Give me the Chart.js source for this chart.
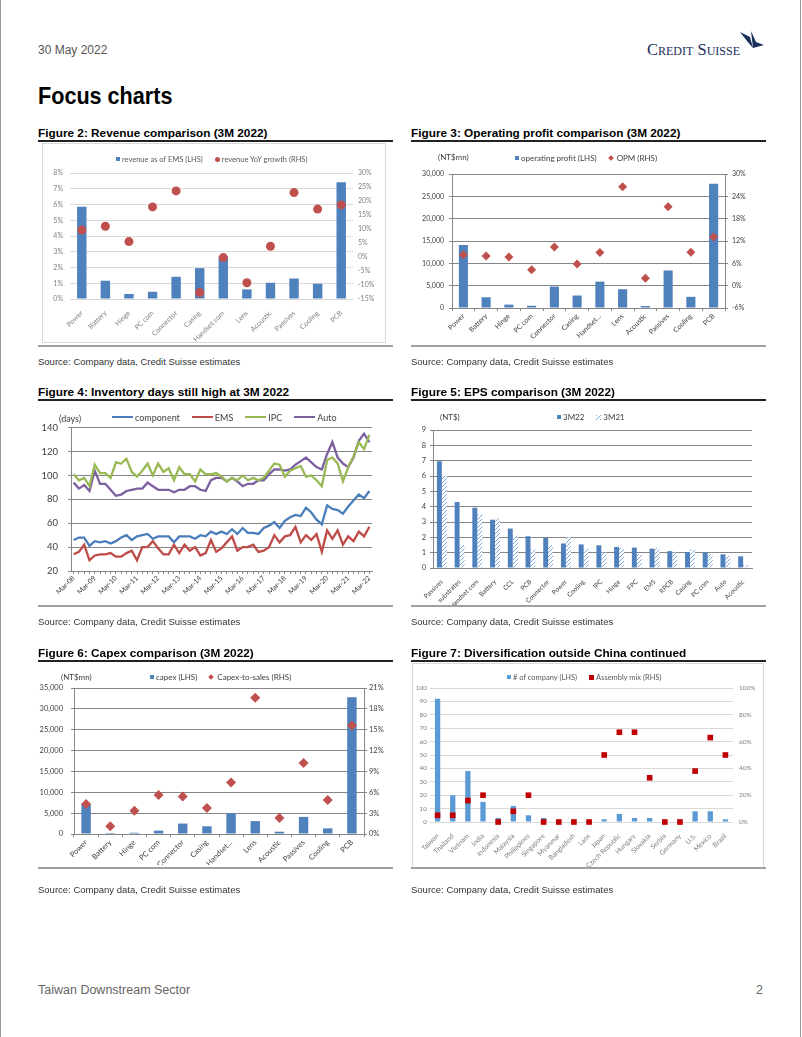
<!DOCTYPE html>
<html lang="en">
<head>
<meta charset="UTF-8">
<title>Focus charts</title>
<script src="https://cdn.jsdelivr.net/npm/chart.js"></script>
<style>
    body { margin: 0; background: #fff; }
    #page { position: relative; width: 802px; height: 1037px; overflow: hidden; font-family: 'Liberation Sans', Arial, sans-serif; }
    #page:before, #page:after { content: ''; position: absolute; top: 0; bottom: 0; width: 1px; background: #9a9a9a; }
    #page:before { left: 0; }
    #page:after { left: 800px; }
    .abs { position: absolute; white-space: nowrap; }
    .date { left: 38px; top: 43px; font-size: 12px; color: #555; }
    .logo { left: 647px; top: 40px; font-family: 'Liberation Serif', 'DejaVu Serif', serif; font-size: 16.5px; color: #1b2f5b; font-variant: small-caps; letter-spacing: 0px; }
    .sail { left: 739px; top: 31px; }
    h1 { position: absolute; left: 38px; top: 82px; margin: 0; font-size: 24px; font-weight: bold; transform: scaleX(0.9); transform-origin: left; }
    .title { font-size: 11.8px; font-weight: bold; color: #000; }
    .rule { position: absolute; height: 2px; background: #222; }
    .grey { position: absolute; height: 2px; background: #a0a0a0; }
    .src { font-size: 9.5px; color: #333; }
    canvas { position: absolute; }
    .box { position: absolute; border: 1px solid #d9d9d9; box-sizing: border-box; }
    .lg { position: absolute; font-family: Lato, sans-serif; font-size: 8px; color: #404040; white-space: nowrap; display: flex; align-items: center; height: 10px; }
    .lg i { display: inline-block; margin-right: 2px; }
    .lg span { margin-right: 12px; }
    .unit { position: absolute; font-family: Lato, sans-serif; font-size: 8px; color: #404040; }
    .foot { top: 983px; font-size: 12.5px; color: #666; }
</style>
</head>
<body>
<div id="page">
    <div class="abs date">30 May 2022</div>
    <div class="abs logo">Credit Suisse</div>
    <svg class="abs sail" width="26" height="20" viewBox="0 0 26 20">
        <polygon points="1,1 11,6 14,17 8,10" fill="#1b2f5b"/>
        <polygon points="12,0 17,11 25,14 14,17" fill="#1b2f5b"/>
    </svg>
    <h1>Focus charts</h1>

    <!-- row 1 -->
    <div class="abs title" style="left:38px;top:126px">Figure 2: Revenue comparison (3M 2022)</div>
    <div class="rule" style="left:38px;top:140px;width:355px"></div>
    <div class="box" style="left:42px;top:143px;width:344px;height:200px"></div>
    <canvas id="c2" width="344" height="196" style="left:42px;top:146px"></canvas>
    <div class="lg" style="left:116px;top:154px;font-size:7.5px;color:#595959">
        <i style="width:4px;height:4px;background:#4F81BD"></i><span>revenue as of EMS (LHS)</span>
        <i style="width:5px;height:5px;border-radius:50%;background:#C0504D"></i><span>revenue YoY growth (RHS)</span>
    </div>
    <div class="grey" style="left:38px;top:345px;width:355px"></div>
    <div class="abs src" style="left:38px;top:356px">Source: Company data, Credit Suisse estimates</div>

    <div class="abs title" style="left:411px;top:126px">Figure 3: Operating profit comparison (3M 2022)</div>
    <div class="rule" style="left:411px;top:140px;width:355px"></div>
    <canvas id="c3" width="354" height="200" style="left:411px;top:146px"></canvas>
    <div class="unit" style="left:438px;top:152px">(NT$mn)</div>
    <div class="lg" style="left:515px;top:153px">
        <i style="width:4px;height:4px;background:#4F81BD"></i><span>operating profit (LHS)</span>
        <i style="width:4px;height:4px;background:#C0504D;transform:rotate(45deg);margin-right:4px"></i><span>OPM (RHS)</span>
    </div>
    <div class="grey" style="left:411px;top:345px;width:355px"></div>
    <div class="abs src" style="left:411px;top:356px">Source: Company data, Credit Suisse estimates</div>

    <!-- row 2 -->
    <div class="abs title" style="left:38px;top:385px">Figure 4: Inventory days still high at 3M 2022</div>
    <div class="rule" style="left:38px;top:399px;width:355px"></div>
    <canvas id="c4" width="350" height="196" style="left:40px;top:412px"></canvas>
    <div class="unit" style="left:59px;top:413px;font-size:9px">(days)</div>
    <div class="lg" style="left:112px;top:412px;font-size:9px">
        <i style="width:21px;height:2px;background:#4A7EBB"></i><span>component</span>
        <i style="width:21px;height:2px;background:#BE4B48"></i><span>EMS</span>
        <i style="width:21px;height:2px;background:#98B954"></i><span>IPC</span>
        <i style="width:21px;height:2px;background:#7D60A0"></i><span>Auto</span>
    </div>
    <div class="grey" style="left:38px;top:605px;width:355px"></div>
    <div class="abs src" style="left:38px;top:616px">Source: Company data, Credit Suisse estimates</div>

    <div class="abs title" style="left:411px;top:385px">Figure 5: EPS comparison (3M 2022)</div>
    <div class="rule" style="left:411px;top:399px;width:355px"></div>
    <canvas id="c5" width="354" height="204" style="left:411px;top:402px"></canvas>
    <div class="unit" style="left:440px;top:412px">(NT$)</div>
    <div class="lg" style="left:557px;top:412px">
        <i style="width:4px;height:4px;background:#4F81BD"></i><span>3M22</span>
        <i id="hatchKey" style="width:5px;height:5px"></i><span>3M21</span>
    </div>
    <div class="grey" style="left:411px;top:605px;width:355px"></div>
    <div class="abs src" style="left:411px;top:616px">Source: Company data, Credit Suisse estimates</div>

    <!-- row 3 -->
    <div class="abs title" style="left:38px;top:646px">Figure 6: Capex comparison (3M 2022)</div>
    <div class="rule" style="left:38px;top:660px;width:355px"></div>
    <canvas id="c6" width="355" height="202" style="left:38px;top:663px"></canvas>
    <div class="unit" style="left:61px;top:672px">(NT$mn)</div>
    <div class="lg" style="left:150px;top:672px">
        <i style="width:4px;height:4px;background:#4F81BD"></i><span>capex (LHS)</span>
        <i style="width:4px;height:4px;background:#C0504D;transform:rotate(45deg);margin-right:4px"></i><span>Capex-to-sales (RHS)</span>
    </div>
    <div class="grey" style="left:38px;top:867px;width:355px"></div>
    <div class="abs src" style="left:38px;top:884px">Source: Company data, Credit Suisse estimates</div>

    <div class="abs title" style="left:411px;top:646px">Figure 7: Diversification outside China continued</div>
    <div class="rule" style="left:411px;top:660px;width:355px"></div>
    <div class="box" style="left:412px;top:663px;width:352px;height:206px"></div>
    <canvas id="c7" width="352" height="211" style="left:412px;top:663px"></canvas>
    <div class="lg" style="left:507px;top:672px;font-size:7.5px;color:#595959">
        <i style="width:4px;height:4px;background:#5B9BD5"></i><span>#&nbsp;of company (LHS)</span>
        <i style="width:5px;height:5px;background:#C00000"></i><span>Assembly mix (RHS)</span>
    </div>
    <div class="grey" style="left:411px;top:867px;width:355px"></div>
    <div class="abs src" style="left:411px;top:884px">Source: Company data, Credit Suisse estimates</div>

    <div class="abs foot" style="left:38px">Taiwan Downstream Sector</div>
    <div class="abs foot" style="left:756px">2</div>
</div>

<script>
    // Figure 2: revenue comparison
    const revCats = ['Power', 'Battery', 'Hinge', 'PC com', 'Connector', 'Casing', 'Handset com', 'Lens', 'Acoustic', 'Passives', 'Cooling', 'PCB'];
    const revShare = [5.85, 1.16, 0.32, 0.46, 1.41, 1.96, 2.7, 0.61, 1.03, 1.3, 0.97, 7.41];
    const revYoY = [9.6, 11.0, 5.5, 17.9, 23.6, -12.7, -0.2, -9.2, 3.8, 23.0, 17.1, 18.6];

    // Figure 3: operating profit
    const opCats = ['Power', 'Battery', 'Hinge', 'PC com', 'Connector', 'Casing', 'Handset…', 'Lens', 'Acoustic', 'Passives', 'Cooling', 'PCB'];
    const opProfit = [14100, 2400, 750, 500, 4800, 2800, 5900, 4200, 450, 8400, 2500, 27800];
    const opMargin = [8.3, 8.0, 7.7, 4.3, 10.4, 5.8, 8.9, 26.6, 2.0, 21.2, 9.0, 13.1];

    // Figure 4: inventory days, quarterly Mar-08 .. Mar-22
    const invTicks = ['Mar-08', 'Mar-09', 'Mar-10', 'Mar-11', 'Mar-12', 'Mar-13', 'Mar-14', 'Mar-15', 'Mar-16', 'Mar-17', 'Mar-18', 'Mar-19', 'Mar-20', 'Mar-21', 'Mar-22'];
    const invComponent = [46, 48, 48, 41, 45, 44, 45, 43, 45, 48, 50, 46, 49, 50, 51, 47, 49, 49, 49, 44, 49, 49, 49, 47, 50, 49, 53, 51,
        53, 51, 55, 51, 56, 52, 52, 51, 56, 58, 61, 56, 62, 65, 67, 66, 73, 69, 63, 59, 75, 72, 71, 68, 74, 79, 84, 81, 87];
    const invEMS = [34, 36, 42, 29, 33, 34, 34, 35, 32, 32, 35, 37, 29, 40, 40, 45, 39, 34, 34, 42, 35, 42, 37, 40, 33, 35, 46, 36,
        39, 44, 49, 37, 40, 40, 42, 36, 37, 40, 50, 44, 49, 50, 57, 44, 50, 46, 51, 36, 54, 47, 54, 42, 49, 45, 53, 49, 57];
    const invIPC = [101, 96, 98, 91, 109, 102, 102, 98, 111, 110, 114, 103, 99, 104, 110, 100, 110, 103, 106, 96, 107, 101, 101, 95, 105, 101, 101, 102,
        99, 95, 98, 96, 100, 96, 98, 96, 98, 104, 110, 109, 99, 104, 106, 108, 99, 100, 96, 91, 113, 115, 110, 95, 107, 116, 128, 122, 134];
    const invAuto = [94, 89, 92, 87, 104, 93, 93, 88, 83, 84, 87, 88, 89, 89, 94, 91, 88, 88, 88, 86, 88, 88, 91, 91, 88, 87, 96, 98,
        98, 95, 98, 95, 91, 93, 93, 96, 96, 101, 105, 105, 104, 105, 109, 112, 115, 111, 107, 105, 118, 128, 115, 110, 107, 115, 129, 135, 128];

    // Figure 5: EPS
    const epsCats = ['Passives', 'substrates', 'Handset com', 'Battery', 'CCL', 'PCB', 'Connector', 'Power', 'Cooling', 'IPC', 'Hinge', 'FPC', 'EMS', 'RPCB', 'Casing', 'PC com', 'Auto', 'Acoustic'];
    const eps3M22 = [6.96, 4.3, 3.93, 3.15, 2.57, 2.07, 1.96, 1.6, 1.54, 1.48, 1.37, 1.33, 1.26, 1.1, 1.04, 1.02, 0.89, 0.76];
    const eps3M21 = [6.0, 1.5, 3.5, 3.25, 2.1, 1.2, 1.5, 2.0, 1.25, 1.0, 1.3, 0.9, 1.3, 1.0, 1.2, 0.9, 0.8, 0.2];

    // Figure 6: capex
    const capex = [7200, 250, 300, 800, 2500, 1850, 5000, 3100, 550, 4100, 1350, 32800];
    const capexToSales = [4.3, 1.1, 3.35, 5.6, 5.4, 3.75, 7.4, 19.6, 2.3, 10.2, 4.9, 15.6];

    // Figure 7: diversification
    const countries = ['Taiwan', 'Thailand', 'Vietnam', 'India', 'Indonesia', 'Malaysia', 'Philippines', 'Singapore', 'Myanmar', 'Bangladesh', 'Laos', 'Japan', 'Czech Republic', 'Hungary', 'Slovakia', 'Serbia', 'Germany', 'U.S.', 'Mexico', 'Brazil'];
    const companyCount = [92, 20, 38, 15, 3, 12, 5, 3, 0, 0, 0, 2, 6, 3, 3, 0, 0, 8, 8, 2];
    const assemblyMix = [5, 5, 16, 20, 0, 8, 20, 0, 0, 0, 0, 50, 67, 67, 33, 0, 0, 38, 63, 50];

    Chart.defaults.font.family = 'Lato, sans-serif';
    Chart.defaults.animation = false;
    Chart.defaults.responsive = false;
    Chart.defaults.plugins.legend.display = false;
    Chart.defaults.plugins.tooltip.enabled = false;

    const BLUE = '#4F81BD';
    const RED = '#C0504D';
    const DARK = '#404040';
    const GRID = '#868686';
    const thousands = v => v.toLocaleString('en-US');
    const pct = v => v + '%';

    // hatched fill for 3M21
    function hatch() {
        const c = document.createElement('canvas');
        c.width = 4; c.height = 4;
        const g = c.getContext('2d');
        g.fillStyle = '#fff';
        g.fillRect(0, 0, 4, 4);
        g.strokeStyle = '#7EA6D8';
        g.lineWidth = 1;
        g.beginPath();
        g.moveTo(0, 4); g.lineTo(4, 0);
        g.stroke();
        return g.createPattern(c, 'repeat');
    }
    const hatchFill = hatch();
    document.getElementById('hatchKey').style.background = 'repeating-linear-gradient(135deg,#7EA6D8 0 1px,#fff 1px 3px)';

    function catAxis(size, color, h) {
        return {
            grid: { display: false },
            border: { display: false },
            ticks: { minRotation: 45, maxRotation: 45, autoSkip: false, padding: 2, color: color, font: { size: size } },
            afterFit: s => { s.height = h; }
        };
    }

    // Figure 2
    new Chart(document.getElementById('c2'), {
        type: 'bar',
        data: {
            labels: revCats,
            datasets: [
                { type: 'line', data: revYoY, yAxisID: 'y1', showLine: false, pointRadius: 4.5, pointBackgroundColor: RED, pointBorderWidth: 0, order: 0, clip: false },
                { data: revShare, yAxisID: 'y', backgroundColor: BLUE, barPercentage: 0.4, categoryPercentage: 1, order: 1 }
            ]
        },
        options: {
            layout: { autoPadding: false, padding: { top: 27, left: 0, right: 0, bottom: 0 } },
            scales: {
                x: catAxis(7, '#7f7f7f', 43),
                y: {
                    position: 'left', min: 0, max: 8,
                    ticks: { stepSize: 1, callback: pct, padding: 7, color: '#7f7f7f', font: { size: 7 } },
                    grid: { color: '#d9d9d9', drawTicks: false },
                    border: { display: false },
                    afterFit: s => { s.width = 28; }
                },
                y1: {
                    position: 'right', min: -15, max: 30,
                    ticks: { stepSize: 5, callback: pct, padding: 5, color: '#7f7f7f', font: { size: 7 } },
                    grid: { display: false, drawTicks: false },
                    border: { display: false },
                    afterFit: s => { s.width = 33; }
                }
            }
        }
    });

    // Figure 3
    new Chart(document.getElementById('c3'), {
        type: 'bar',
        data: {
            labels: opCats,
            datasets: [
                { type: 'line', data: opMargin, yAxisID: 'y1', showLine: false, pointStyle: 'rectRot', pointRadius: 4.5, pointBackgroundColor: RED, pointBorderWidth: 0, order: 0, clip: false },
                { data: opProfit, yAxisID: 'y', backgroundColor: BLUE, barPercentage: 0.4, categoryPercentage: 1, order: 1 }
            ]
        },
        options: {
            layout: { autoPadding: false, padding: { top: 28, left: 0, right: 0, bottom: 0 } },
            scales: {
                x: {
                    grid: { display: true, drawOnChartArea: false, offset: true, tickLength: 3, color: GRID },
                    border: { color: GRID },
                    ticks: { minRotation: 45, maxRotation: 45, autoSkip: false, padding: 1, color: DARK, font: { size: 7 } },
                    afterFit: s => { s.height = 38; }
                },
                y: {
                    position: 'left', min: 0, max: 30000,
                    ticks: { stepSize: 5000, callback: thousands, padding: 5, color: DARK, font: { size: 7 } },
                    grid: { color: GRID, tickLength: 3 },
                    border: { color: GRID },
                    afterFit: s => { s.width = 41; }
                },
                y1: {
                    position: 'right', min: -6, max: 30,
                    ticks: { stepSize: 6, callback: pct, padding: 4, color: DARK, font: { size: 7 } },
                    grid: { drawOnChartArea: false, tickLength: 3, color: GRID },
                    border: { color: GRID },
                    afterFit: s => { s.width = 40; }
                }
            }
        }
    });

    // Figure 4
    const quarterNames = ['Mar', 'Jun', 'Sep', 'Dec'];
    const invLabels = [];
    invTicks.forEach(t => {
        const yy = t.slice(4);
        quarterNames.forEach(q => { if (invLabels.length < invComponent.length) invLabels.push(q + '-' + yy); });
    });

    function invLine(data, color) {
        return { data: data, borderColor: color, borderWidth: 2.3, pointRadius: 0, tension: 0 };
    }
    new Chart(document.getElementById('c4'), {
        type: 'line',
        data: {
            labels: invLabels,
            datasets: [
                invLine(invComponent, '#4A7EBB'),
                invLine(invEMS, '#BE4B48'),
                invLine(invIPC, '#98B954'),
                invLine(invAuto, '#7D60A0')
            ]
        },
        options: {
            layout: { autoPadding: false, padding: { top: 15, left: 0, right: 18, bottom: 0 } },
            scales: {
                x: {
                    offset: true,
                    grid: { drawOnChartArea: false, tickLength: 3, color: GRID },
                    border: { color: GRID },
                    ticks: {
                        minRotation: 45, maxRotation: 45, autoSkip: false, padding: 0, color: DARK, font: { size: 7 },
                        callback: (v, i) => (i % 4 === 0 ? invLabels[i] : '')
                    },
                    afterFit: s => { s.height = 37; }
                },
                y: {
                    min: 20, max: 140,
                    ticks: { stepSize: 20, padding: 10, color: DARK, font: { size: 9.5 } },
                    grid: { color: GRID, tickLength: 3 },
                    border: { color: GRID },
                    afterFit: s => { s.width = 31; }
                }
            }
        }
    });

    // Figure 5
    new Chart(document.getElementById('c5'), {
        type: 'bar',
        data: {
            labels: epsCats,
            datasets: [
                { data: eps3M22, backgroundColor: BLUE, barPercentage: 1, categoryPercentage: 0.56 },
                { data: eps3M21, backgroundColor: hatchFill, barPercentage: 1, categoryPercentage: 0.56 }
            ]
        },
        options: {
            layout: { autoPadding: false, padding: { top: 28, left: 0, right: 13, bottom: 0 } },
            scales: {
                x: {
                    grid: { display: false },
                    border: { color: GRID },
                    ticks: { minRotation: 45, maxRotation: 45, autoSkip: false, padding: 2, color: DARK, font: { size: 6.5 } },
                    afterFit: s => { s.height = 38; }
                },
                y: {
                    min: 0, max: 9,
                    ticks: { stepSize: 1, padding: 4, color: DARK, font: { size: 7.5 } },
                    grid: { color: GRID, tickLength: 3 },
                    border: { color: GRID },
                    afterFit: s => { s.width = 22; }
                }
            }
        }
    });

    // Figure 6
    new Chart(document.getElementById('c6'), {
        type: 'bar',
        data: {
            labels: opCats,
            datasets: [
                { type: 'line', data: capexToSales, yAxisID: 'y1', showLine: false, pointStyle: 'rectRot', pointRadius: 5, pointBackgroundColor: RED, pointBorderWidth: 0, order: 0, clip: false },
                { data: capex, yAxisID: 'y', backgroundColor: BLUE, barPercentage: 0.39, categoryPercentage: 1, order: 1 }
            ]
        },
        options: {
            layout: { autoPadding: false, padding: { top: 25, left: 0, right: 0, bottom: 0 } },
            scales: {
                x: {
                    grid: { display: true, drawOnChartArea: false, offset: true, tickLength: 3, color: GRID },
                    border: { color: GRID },
                    ticks: { minRotation: 45, maxRotation: 45, autoSkip: false, padding: 1, color: DARK, font: { size: 7.5 } },
                    afterFit: s => { s.height = 31; }
                },
                y: {
                    position: 'left', min: 0, max: 35000,
                    ticks: { stepSize: 5000, callback: thousands, padding: 8, color: DARK, font: { size: 7.5 } },
                    grid: { color: GRID, tickLength: 3 },
                    border: { color: GRID },
                    afterFit: s => { s.width = 36; }
                },
                y1: {
                    position: 'right', min: 0, max: 21,
                    ticks: { stepSize: 3, callback: pct, padding: 2, color: DARK, font: { size: 7.5 } },
                    grid: { drawOnChartArea: false, tickLength: 3, color: GRID },
                    border: { color: GRID },
                    afterFit: s => { s.width = 29; }
                }
            }
        }
    });

    // Figure 7
    new Chart(document.getElementById('c7'), {
        type: 'bar',
        data: {
            labels: countries,
            datasets: [
                { type: 'line', data: assemblyMix, yAxisID: 'y1', showLine: false, pointStyle: 'rect', pointRadius: 4, pointBackgroundColor: '#C00000', pointBorderWidth: 0, order: 0, clip: false },
                { data: companyCount, yAxisID: 'y', backgroundColor: '#5B9BD5', barPercentage: 0.35, categoryPercentage: 1, order: 1 }
            ]
        },
        options: {
            layout: { autoPadding: false, padding: { top: 25, left: 0, right: 0, bottom: 0 } },
            scales: {
                x: catAxis(6.8, '#7f7f7f', 52),
                y: {
                    position: 'left', min: 0, max: 100,
                    ticks: { stepSize: 10, padding: 3, color: '#7f7f7f', font: { size: 6.5 } },
                    grid: { color: '#d9d9d9', drawTicks: false },
                    border: { display: false },
                    afterFit: s => { s.width = 18; }
                },
                y1: {
                    position: 'right', min: 0, max: 100,
                    ticks: { stepSize: 20, callback: pct, padding: 6, color: '#7f7f7f', font: { size: 6.5 } },
                    grid: { display: false, drawTicks: false },
                    border: { display: false },
                    afterFit: s => { s.width = 31; }
                }
            }
        }
    });
</script>
</body>
</html>
